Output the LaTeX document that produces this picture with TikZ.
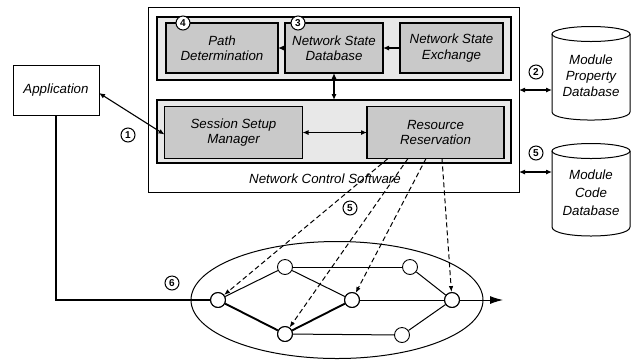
\documentclass[tikz,border=0pt]{standalone}
\usepackage{fontspec}
\setmainfont{Liberation Sans}
\usetikzlibrary{arrows.meta,shapes.geometric}
\begin{document}
\begin{tikzpicture}[x=1pt,y=-1pt,
  lbl/.style={font=\itshape\fontsize{13.3}{15.5}\selectfont, align=center},
  panel/.style={draw, line width=1.1pt, fill=gray!18, minimum height=63pt,
    minimum width=354pt, inner sep=0pt, outer sep=0pt},
  module/.style={draw, line width=1.6pt, fill=gray!42, minimum height=50pt,
    inner sep=0pt, outer sep=0pt, lbl},
  num/.style={circle, draw, line width=1pt, fill=white, minimum size=14pt,
    inner sep=0pt, font=\bfseries\fontsize{10}{10}\selectfont},
  router/.style={circle, draw, line width=0.9pt, fill=white, minimum size=15pt,
    inner sep=0pt},
  biarrow/.style={line width=1.1pt, {Latex[length=6pt,width=5pt]}-{Latex[length=6pt,width=5pt]}},
  onearrow/.style={line width=1.1pt, -{Latex[length=6pt,width=5pt]}},
  reserve/.style={line width=1pt, dash pattern=on 5pt off 3pt, -{Latex[length=6pt,width=4.5pt]}},
  link/.style={line width=1pt},
  mainlink/.style={line width=1.9pt},
  dbshape/.style={line width=1pt}
]
\useasboundingbox (0,0) rectangle (639,360);

% ---- Network control software block ----
\node[draw, line width=1pt, fill=white, minimum width=371pt, minimum height=185pt,
  inner sep=0pt, outer sep=0pt] (ncs) at (333.5,99.5) {};
\node[lbl] (ncslabel) at (325,179) {Network Control Software};

\node[panel] (toppanel) at (334,48.5) {};
\node[panel] (botpanel) at (334,131.5) {};

\node[module, minimum width=112pt] (pd)  at (222,48)   {Path\\Determination};
\node[module, minimum width=98pt]  (nsd) at (334,48)   {Network State\\Database};
\node[module, minimum width=103pt] (nse) at (451.5,48) {Network State\\Exchange};
\node[module, minimum width=138pt, minimum height=52pt] (ssm) at (233.5,132.5) {Session Setup\\Manager};
\node[module, minimum width=137pt, minimum height=52pt] (rr)  at (435.5,132.5) {Resource\\Reservation};

\node[num] (n4) at (183,23) {4};
\node[num] (n3) at (298,23) {3};

\draw[onearrow] (nse.west) -- (nsd.east);
\draw[onearrow] (nsd.west) -- (pd.east);
\draw[biarrow] (nsd.south) -- (nsd.south |- botpanel.north);
\draw[biarrow] (ssm.east) -- (rr.west);

% ---- Application ----
\node[draw, line width=1pt, fill=white, minimum width=86pt, minimum height=50pt,
  inner sep=0pt, outer sep=0pt, lbl] (app) at (56,90) {Application};
\draw[biarrow] ([yshift=-3pt]app.east) -- ([yshift=-2pt]ssm.west);
\node[num] (n1) at (128,135) {1};

% ---- Databases ----
\draw[dbshape] (552,34) -- (552,112) .. controls (552,122.7) and (630,122.7) .. (630,112) -- (630,34);
\draw[dbshape] (591,34) ellipse [x radius=39pt, y radius=7.5pt];
\node[lbl, font=\itshape\fontsize{13.3}{16}\selectfont, minimum width=78pt, minimum height=70pt,
  inner sep=0pt, outer sep=0pt] (mpd) at (591,76) {Module\\Property\\Database};

\draw[dbshape] (552,151) -- (552,227) .. controls (552,239) and (630,239) .. (630,227) -- (630,151);
\draw[dbshape] (591,151) ellipse [x radius=39pt, y radius=7.5pt];
\node[lbl, font=\itshape\fontsize{13.3}{18}\selectfont, minimum width=78pt, minimum height=70pt,
  inner sep=0pt, outer sep=0pt] (mcd) at (591,193) {Module\\Code\\Database};

\draw[biarrow] (ncs.east |- 0,90) -- (mpd.west |- 0,90);
\draw[biarrow] (ncs.east |- 0,172) -- (mcd.west |- 0,172);
\node[num] (n2) at (536,72) {2};
\node[num] (n5a) at (536,153) {5};

% ---- Network ----
\node[ellipse, draw, line width=1pt, minimum width=292pt, minimum height=117pt,
  inner sep=0pt] (net) at (337,300) {};

\node[router] (ra) at (218,300) {};
\node[router] (rb) at (285,267) {};
\node[router] (rc) at (285,334) {};
\node[router] (rd) at (352,300) {};
\node[router] (re) at (410,267) {};
\node[router] (rf) at (402,335) {};
\node[router] (rg) at (452,300) {};
\coordinate (flowend) at (503,300);

\draw[link] (ra) -- (rb);
\draw[link] (rb) -- (re);
\draw[link] (rb) -- (rd);
\draw[link] (rc) -- (rf);
\draw[link] (re) -- (rg);
\draw[link] (rf) -- (rg);
\draw[mainlink] (ra) -- (rc);
\draw[mainlink] (rc) -- (rd);
\draw[link] (rd) -- (rg);
\draw[mainlink] (app.south) |- (ra.west);
\draw[line width=1pt, -{Latex[length=13pt,width=8pt]}] (rg.east) -- (flowend);

\node[num] (n6) at (172,283) {6};

% ---- Reservation signalling ----
\draw[reserve] ([xshift=-47.5pt]rr.south) -- (ra);
\draw[reserve] ([xshift=-27.5pt]rr.south) -- (rc);
\draw[reserve] ([xshift=-9.5pt]rr.south) -- (rd);
\draw[reserve] ([xshift=6.5pt]rr.south) -- (rg);
\node[num] (n5b) at (350,208) {5};

% redraw router outlines above the dashed lines
\foreach \r in {ra,rc,rd,rg}{\draw[line width=0.9pt] (\r.center) circle (7.5pt);}
\end{tikzpicture}
\end{document}
